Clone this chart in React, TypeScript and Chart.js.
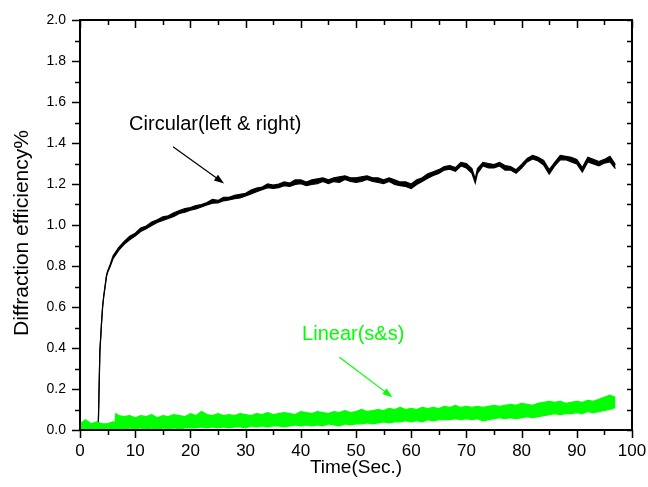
import React, { useEffect, useRef } from "react";
import { Chart, registerables } from "chart.js";

Chart.register(...registerables);

// ---- Data ----
const blackTime = [
  0, 1, 2, 3, 3.3, 3.6, 3.9, 4.1, 4.3, 4.5,
  4.8, 5, 5.5, 6, 7, 8, 9, 10, 11, 12,
  13, 14, 15, 16, 17, 18, 19, 20, 21, 22,
  23, 24, 25, 26, 27, 28, 29, 30, 31, 32,
  33, 34, 35, 36, 37, 38, 39, 40, 41, 42,
  43, 44, 45, 46, 47, 48, 49, 50, 51, 52,
  53, 54, 55, 56, 57, 58, 59, 60, 61, 62,
  63, 64, 65, 66, 67, 68, 69, 70, 71, 71.6,
  72, 73, 74, 75, 76, 77, 78, 79, 80, 81,
  82, 83, 84, 85, 86, 87, 88, 89, 90, 91,
  92, 93, 94, 95, 96, 97,
];
const blackHigh = [
  0.003, 0.003, 0.003, 0.003, 0.006, 0.385, 0.525, 0.605, 0.655, 0.695,
  0.755, 0.775, 0.81, 0.85, 0.89, 0.92, 0.945, 0.96, 0.985, 0.995,
  1.015, 1.025, 1.04, 1.045, 1.06, 1.07, 1.08, 1.085, 1.095, 1.1,
  1.11, 1.125, 1.12, 1.135, 1.135, 1.145, 1.15, 1.155, 1.17, 1.18,
  1.185, 1.2, 1.195, 1.2, 1.21, 1.205, 1.22, 1.22, 1.21, 1.22,
  1.225, 1.23, 1.22, 1.23, 1.235, 1.24, 1.23, 1.23, 1.235, 1.24,
  1.23, 1.23, 1.22, 1.23, 1.22, 1.21, 1.21, 1.2, 1.22, 1.23,
  1.25, 1.26, 1.27, 1.285, 1.29, 1.28, 1.305, 1.3, 1.275, 1.225,
  1.275, 1.305, 1.3, 1.295, 1.305, 1.29, 1.285, 1.27, 1.295, 1.325,
  1.34, 1.33, 1.315, 1.27, 1.305, 1.34, 1.335, 1.33, 1.32, 1.28,
  1.33, 1.32, 1.31, 1.32, 1.335, 1.295,
];
const blackLow = [
  0, 0, 0, 0, 0.003, 0.38, 0.52, 0.6, 0.65, 0.688,
  0.748, 0.768, 0.8, 0.836, 0.876, 0.906, 0.928, 0.946, 0.968, 0.982,
  0.998, 1.012, 1.022, 1.032, 1.042, 1.056, 1.062, 1.072, 1.078, 1.088,
  1.098, 1.106, 1.108, 1.118, 1.122, 1.128, 1.132, 1.142, 1.152, 1.162,
  1.172, 1.182, 1.178, 1.182, 1.192, 1.188, 1.198, 1.202, 1.192, 1.198,
  1.202, 1.212, 1.202, 1.212, 1.208, 1.222, 1.212, 1.208, 1.212, 1.222,
  1.212, 1.208, 1.202, 1.212, 1.198, 1.192, 1.188, 1.178, 1.198, 1.212,
  1.228, 1.242, 1.252, 1.268, 1.272, 1.262, 1.288, 1.278, 1.252, 1.205,
  1.252, 1.288, 1.278, 1.278, 1.288, 1.268, 1.268, 1.252, 1.278, 1.308,
  1.322, 1.312, 1.292, 1.248, 1.288, 1.318, 1.318, 1.308, 1.298, 1.258,
  1.308, 1.298, 1.288, 1.302, 1.308, 1.275,
];

const greenTime = [
  0, 1, 2, 3, 4, 5, 6, 6.3, 6.5, 7,
  8, 9, 10, 11, 12, 13, 14, 15, 16, 17,
  18, 19, 20, 21, 22, 23, 24, 25, 26, 27,
  28, 29, 30, 31, 32, 33, 34, 35, 36, 37,
  38, 39, 40, 41, 42, 43, 44, 45, 46, 47,
  48, 49, 50, 51, 52, 53, 54, 55, 56, 57,
  58, 59, 60, 61, 62, 63, 64, 65, 66, 67,
  68, 69, 70, 71, 72, 73, 74, 75, 76, 77,
  78, 79, 80, 81, 82, 83, 84, 85, 86, 87,
  88, 89, 90, 91, 92, 93, 94, 95, 96, 97,
];
const greenHigh = [
  0.03, 0.05, 0.03, 0.04, 0.03, 0.03, 0.04, 0.03, 0.08, 0.07,
  0.065, 0.07, 0.06, 0.07, 0.065, 0.075, 0.06, 0.07, 0.065, 0.075,
  0.07, 0.065, 0.08, 0.07, 0.09, 0.075, 0.07, 0.08, 0.07, 0.075,
  0.07, 0.08, 0.075, 0.07, 0.08, 0.075, 0.085, 0.075, 0.08, 0.085,
  0.08, 0.075, 0.09, 0.085, 0.08, 0.09, 0.085, 0.08, 0.09, 0.085,
  0.095, 0.085, 0.09, 0.1, 0.09, 0.095, 0.1, 0.095, 0.105, 0.1,
  0.11, 0.1, 0.105, 0.1, 0.11, 0.105, 0.11, 0.105, 0.115, 0.11,
  0.12, 0.11, 0.115, 0.11, 0.115, 0.11, 0.115, 0.12, 0.115, 0.12,
  0.125, 0.12, 0.13, 0.125, 0.12, 0.13, 0.135, 0.14, 0.135, 0.14,
  0.13, 0.135, 0.14, 0.135, 0.145, 0.14, 0.15, 0.16, 0.17, 0.16,
];
const greenLow = [
  0, 0, 0, 0.005, 0, 0, 0, 0, 0, 0.005,
  0, 0.01, 0.005, 0.01, 0, 0.01, 0, 0.01, 0.005, 0.01,
  0.005, 0.01, 0.01, 0.01, 0.015, 0.01, 0.015, 0.01, 0.015, 0.01,
  0.015, 0.015, 0.01, 0.02, 0.015, 0.02, 0.015, 0.02, 0.02, 0.015,
  0.02, 0.025, 0.02, 0.025, 0.02, 0.025, 0.02, 0.03, 0.025, 0.02,
  0.03, 0.025, 0.03, 0.03, 0.035, 0.03, 0.035, 0.04, 0.035, 0.04,
  0.04, 0.045, 0.04, 0.045, 0.04, 0.05, 0.045, 0.05, 0.05, 0.05,
  0.055, 0.05, 0.055, 0.05, 0.055, 0.045, 0.05, 0.055, 0.06, 0.055,
  0.06, 0.055, 0.06, 0.065, 0.06, 0.065, 0.07, 0.075, 0.08, 0.075,
  0.08, 0.08, 0.085, 0.08, 0.09, 0.085, 0.09, 0.095, 0.1, 0.11,
];

const xTitle = "Time(Sec.)";
const yTitle = "Diffraction efficiency%";
const circularLabel = "Circular(left & right)";
const linearLabel = "Linear(s&s)";

const FONT = '"Liberation Sans", Arial, sans-serif';
const BLACK = "#000000";
const GREEN = "#00ff00";

const toXY = (xs: number[], ys: number[]) => xs.map((x, i) => ({ x, y: ys[i] }));

function drawArrow(ctx: CanvasRenderingContext2D, x1: number, y1: number, x2: number, y2: number, color: string) {
  const ang = Math.atan2(y2 - y1, x2 - x1);
  const len = 10;
  const hw = 3.5;
  ctx.save();
  ctx.strokeStyle = color;
  ctx.fillStyle = color;
  ctx.lineWidth = 1.2;
  ctx.beginPath();
  ctx.moveTo(x1, y1);
  ctx.lineTo(x2 - Math.cos(ang) * len * 0.8, y2 - Math.sin(ang) * len * 0.8);
  ctx.stroke();
  ctx.beginPath();
  ctx.moveTo(x2, y2);
  ctx.lineTo(x2 - Math.cos(ang) * len - Math.sin(ang) * hw, y2 - Math.sin(ang) * len + Math.cos(ang) * hw);
  ctx.lineTo(x2 - Math.cos(ang) * len + Math.sin(ang) * hw, y2 - Math.sin(ang) * len - Math.cos(ang) * hw);
  ctx.closePath();
  ctx.fill();
  ctx.restore();
}

const framePlugin = {
  id: "originFrame",
  afterDraw(chart: any) {
    const { ctx, chartArea } = chart;
    const xs = chart.scales.x;
    const ys = chart.scales.y;
    const { left, right, top, bottom } = chartArea;
    ctx.save();
    ctx.strokeStyle = BLACK;
    ctx.lineWidth = 1.5;
    for (let v = 0; v <= 100.001; v += 5) {
      const px = Math.round(xs.getPixelForValue(v)) + 0.5;
      const major = Math.round(v) % 10 === 0;
      ctx.beginPath();
      ctx.moveTo(px, bottom);
      ctx.lineTo(px, bottom + (major ? 8 : 5));
      ctx.moveTo(px, top);
      ctx.lineTo(px, top + (major ? 8 : 5));
      ctx.stroke();
    }
    for (let i = 0; i <= 20; i++) {
      const v = i / 10;
      const py = Math.round(ys.getPixelForValue(v)) + 0.5;
      const major = i % 2 === 0;
      ctx.beginPath();
      ctx.moveTo(left, py);
      ctx.lineTo(left - (major ? 8 : 5), py);
      ctx.moveTo(right, py);
      ctx.lineTo(right - 5, py);
      ctx.stroke();
    }
    ctx.lineWidth = 2;
    ctx.strokeRect(left, top, right - left, bottom - top);

    ctx.fillStyle = BLACK;
    ctx.textAlign = "center";
    ctx.textBaseline = "middle";
    ctx.font = `19px ${FONT}`;
    ctx.fillText(xTitle, (left + right) / 2, 468);
    ctx.save();
    ctx.font = `21px ${FONT}`;
    ctx.translate(22, 233);
    ctx.rotate(-Math.PI / 2);
    ctx.fillText(yTitle, 0, 0);
    ctx.restore();

    ctx.font = `20px ${FONT}`;
    ctx.fillStyle = BLACK;
    ctx.fillText(circularLabel, xs.getPixelForValue(24.5), ys.getPixelForValue(1.488));
    drawArrow(ctx, xs.getPixelForValue(16.85), ys.getPixelForValue(1.382), xs.getPixelForValue(26.1), ys.getPixelForValue(1.203), BLACK);
    ctx.fillStyle = GREEN;
    ctx.fillText(linearLabel, xs.getPixelForValue(49.5), ys.getPixelForValue(0.468));
    drawArrow(ctx, xs.getPixelForValue(47.0), ys.getPixelForValue(0.355), xs.getPixelForValue(56.6), ys.getPixelForValue(0.16), GREEN);
    ctx.restore();
  },
};

export default function App() {
  const ref = useRef<HTMLCanvasElement | null>(null);
  useEffect(() => {
    if (!ref.current) return;
    const line = (label: string, data: any, color: string, fill: any) => ({
      label,
      data,
      borderColor: color,
      backgroundColor: color,
      borderWidth: 1.2,
      pointRadius: 0,
      tension: 0,
      fill,
    });
    const chart = new Chart(ref.current, {
      type: "line",
      data: {
        datasets: [
          line("Linear low", toXY(greenTime, greenLow), GREEN, false),
          line("Linear(s&s)", toXY(greenTime, greenHigh), GREEN, "-1"),
          line("Circular low", toXY(blackTime, blackLow), BLACK, false),
          line("Circular(left & right)", toXY(blackTime, blackHigh), BLACK, "-1"),
        ],
      },
      options: {
        responsive: false,
        animation: false,
        events: [],
        layout: { padding: { top: 20, right: 16, left: 0, bottom: 0 } },
        plugins: { legend: { display: false }, tooltip: { enabled: false } },
        scales: {
          x: {
            type: "linear",
            min: 0,
            max: 100,
            grid: { display: false, drawTicks: false },
            border: { display: false },
            ticks: {
              stepSize: 10,
              padding: 11,
              color: BLACK,
              maxRotation: 0,
              font: { family: FONT, size: 17 },
            },
            afterFit: (s: any) => {
              s.height = 57;
              s.paddingLeft = 0;
              s.paddingRight = 0;
            },
          },
          y: {
            type: "linear",
            min: 0,
            max: 2,
            grid: { display: false, drawTicks: false },
            border: { display: false },
            ticks: {
              stepSize: 0.2,
              padding: 14,
              color: BLACK,
              font: { family: FONT, size: 14 },
              callback: (v: any) => Number(v).toFixed(1),
            },
            afterFit: (s: any) => {
              s.width = 80;
              s.paddingTop = 0;
              s.paddingBottom = 0;
            },
          },
        },
      },
      plugins: [framePlugin],
    });
    return () => chart.destroy();
  }, []);
  return (
    <div style={{ position: "absolute", left: 0, top: 0, width: 648, height: 487, background: "#fff" }}>
      <canvas ref={ref} width={648} height={487} />
    </div>
  );
}
